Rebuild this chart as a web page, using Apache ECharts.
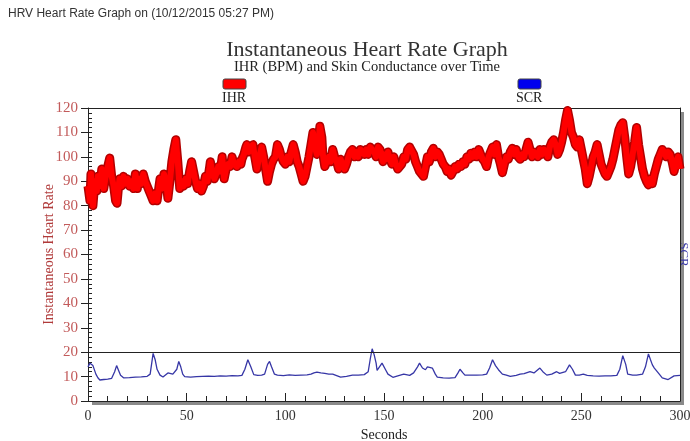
<!DOCTYPE html>
<html>
<head>
<meta charset="utf-8">
<script src="https://cdn.jsdelivr.net/npm/echarts@6/dist/echarts.min.js"></script>
<style>
    html, body { margin: 0; padding: 0; background: #fff; }
    #chart { width: 690px; height: 441px; }
</style>
</head>
<body>
<div id="chart"></div>
<script>
// IHR (beats per minute)
var ihrSeconds = [0, 1, 1.5, 2.5, 3.5, 4.5, 5, 6, 7, 8, 9, 10, 11, 12, 13, 14, 14.7, 15.5, 16, 17, 18, 19, 20, 21, 22, 23, 24, 25, 26, 27, 28, 29, 30, 31, 32, 33, 34, 35, 36, 36.5, 37.5, 38.5, 39.5, 40.5, 41.5, 42.5, 43.5, 44.5, 45.5, 46.5, 47.5, 48.5, 49.5, 50.5, 51.5, 52.5, 53.5, 54.5, 55.5, 56.5, 57.5, 58.5, 59.5, 60.5, 61.5, 62, 63, 64, 65, 66, 67, 68, 69, 70, 71, 72, 73, 74, 75.5, 76.5, 77.5, 78, 79, 80, 80.5, 81.5, 82.5, 83.6, 84.5, 85.6, 86.5, 88, 89, 90, 91, 92, 93, 94, 95, 96, 97, 98, 99, 100, 101, 102, 103, 104, 105, 106, 107, 108, 109, 110, 111, 112, 113, 114, 115, 116, 117, 117.5, 118.5, 119, 120, 121, 122, 123, 124, 125, 126, 127, 128, 129, 130, 131, 132, 133, 134, 135, 136, 137, 138, 139, 140, 141, 142, 143, 144, 145, 146, 147, 148, 149.5, 150, 151, 152, 153, 154, 155, 156, 157, 158, 159, 160, 161, 162, 163, 164, 165, 166, 167, 168, 169, 170, 171, 172, 173, 174, 175, 176, 177, 178, 179, 180, 181, 182, 183, 184, 185, 186, 187, 188, 189, 190, 191, 192, 193, 194, 195, 196, 197, 198, 199, 200, 201, 202, 203, 204, 205, 206, 207, 208, 209, 210, 211, 212, 213, 214, 215, 216, 217, 218, 219, 220, 221, 222, 223, 224, 225, 226, 227, 228, 229, 230, 231, 232, 233, 234, 235, 236, 237, 238, 239, 240, 241, 242, 243, 244, 245, 246, 247, 248, 249, 250, 251, 252, 253, 254, 255, 256, 257, 258, 259, 260, 261, 262, 263, 264, 265, 266, 267, 268, 269, 270, 271, 272, 273, 274, 275, 276, 277, 278, 279, 280, 281, 282, 283, 284, 285, 286, 287, 288, 289, 290, 291, 292, 293, 294, 295, 296, 297, 298, 299, 300];
var ihrBpm = [88, 82, 93, 80, 90, 86, 92, 88, 95, 87, 92, 96, 99.5, 92, 88, 82, 81, 88, 91, 88, 92, 89, 91, 88, 90, 87, 93, 87, 91, 89, 93, 90, 88, 86, 84, 82, 85, 82, 88, 91, 87, 93, 90, 83, 90, 98, 103, 107, 98, 87, 90, 88, 91, 89, 94, 98, 94, 90, 87, 89, 86, 88, 92, 90, 95, 98, 94, 91, 93, 96, 94, 100, 91, 95, 97, 96, 100, 97, 96, 98, 97, 99, 101, 104, 105, 102, 104, 105, 100, 95, 99, 104, 100, 95, 90, 94, 97, 99, 100, 105, 103, 100, 98, 97, 100, 98, 102, 105, 102, 98, 96, 93, 90, 92, 96, 100, 105, 110, 104, 101, 108, 112.5, 108, 101, 96, 98, 100, 98, 103, 100, 98, 95, 99, 97, 95, 97, 100, 102, 103, 100, 102, 100, 103, 102, 101, 103, 101, 104, 103, 102, 100, 104, 103, 98, 101, 99, 102, 99, 97, 100, 97, 95, 94.5, 97, 100, 99, 103, 104, 104.8, 101, 98, 96, 94, 93, 92, 96, 100, 98, 102, 103.5, 100, 102, 101, 99, 97, 96, 94, 95, 92.5, 94, 96, 95, 97, 96, 98, 97, 100, 99, 101.5, 100, 102, 100, 103, 101, 99, 98, 96, 100, 102, 104, 101, 105, 100, 97, 93.5, 97, 100, 99, 102, 103.5, 101, 103, 100, 99, 101, 100, 103, 106, 103, 100, 102, 101, 100, 103, 101, 103, 102, 100, 104, 106, 107, 105, 101, 103, 106, 110, 115, 119, 115, 110, 108, 105, 104, 107, 103, 99, 95, 89, 92, 96, 100, 102, 105, 101, 97, 95, 93, 92, 94, 96, 99, 103, 107, 111, 113, 114, 108, 100, 93, 96, 101, 106, 112, 105, 100, 95, 92, 90, 88.5, 91, 89, 93, 96, 99, 101, 103, 102, 100, 102, 101, 98, 94, 98, 100, 95];

// skin conductance
var scrSeconds = [0, 1, 2, 2.5, 4, 5, 6, 8, 10, 12, 13.5, 14.5, 15.5, 16.5, 18, 21, 24, 27, 30, 31.5, 33, 34, 35, 36.5, 38, 39, 40.5, 41.5, 43, 44, 45, 46, 47, 48, 49, 50, 52, 55, 58, 61, 64, 67, 70, 73, 76, 78, 79.5, 81, 82.5, 84, 86, 88, 89.5, 91, 92, 93, 94.5, 96, 99, 102, 105, 108, 111, 113, 114.5, 116, 118, 120, 122, 124, 126, 128, 129, 131, 134, 137, 140, 142, 143, 144, 145, 146, 146.5, 147.5, 149, 149.5, 151, 152, 154.5, 157, 160, 163, 165, 167, 168, 169.5, 171, 172, 173, 174.5, 176, 177, 180, 183, 186, 187.5, 188.5, 190, 191, 194, 197, 200, 202, 203.5, 205, 206.5, 208, 210, 212, 214, 217, 219, 221, 224, 226, 227.5, 229, 230.5, 232.5, 235, 237.5, 239, 240, 242, 244, 245.5, 247, 249, 251, 253, 256, 259, 262, 265, 268, 269.5, 271, 272.5, 273.5, 276, 278, 281, 282.5, 284, 285, 286, 287, 288, 289.5, 291, 294, 297, 300];
var scrValues = [14, 15.5, 16, 14.5, 11, 9.5, 8.6, 8.8, 9, 9.3, 12, 14.5, 12.5, 10.5, 9.5, 9.6, 9.8, 9.9, 10.1, 11, 19.5, 17, 13, 10.6, 9.8, 10, 11.5, 11.8, 11, 10.2, 13, 16.2, 14, 11, 10, 9.6, 9.8, 10, 10.1, 10.2, 10.1, 10.3, 10.2, 10.4, 10.3, 10.5, 13, 16.9, 14, 10.8, 10.5, 10.6, 11, 15, 16.2, 14, 11, 10.6, 10.4, 10.7, 10.5, 10.6, 10.7, 11, 11.5, 11.8, 11.5, 11.3, 11, 11, 10.4, 9.8, 9.5, 10.1, 10.6, 10.6, 10.8, 12, 17, 21.4, 19, 15.5, 12.5, 13, 15.5, 16, 12.5, 11, 9.7, 10.3, 11, 10.5, 11.5, 14, 15.5, 13.5, 12.8, 14, 14.8, 13.5, 11, 9.8, 9.5, 9.4, 9.6, 11.5, 13, 11.5, 10.6, 10.6, 10.6, 10.7, 11, 13.5, 16.9, 14.5, 12.8, 11, 10.6, 10.1, 10.5, 11, 11.2, 12, 11.5, 12.5, 13.5, 12, 10.6, 11, 12, 11.3, 10.6, 12, 14.8, 13, 10.6, 10.6, 11, 10.5, 10.3, 10.2, 10.3, 10.3, 10.5, 13, 18.6, 15, 11, 10.6, 10.6, 11, 14, 19.3, 17, 14.8, 13.5, 13.8, 11, 9.5, 8.8, 10.3, 10.5];

var secondTicks = [0, 50, 100, 150, 200, 250, 300];

function zip(xs, ys) {
    var out = [];
    for (var i = 0; i < xs.length; i++) {
        out.push([xs[i], ys[i]]);
    }
    return out;
}

var ihrData = zip(ihrSeconds, ihrBpm);
var scrData = zip(scrSeconds, scrValues);

var serif = '"Liberation Serif", "DejaVu Serif", serif';
var myChart = echarts.init(document.getElementById('chart'));

var option = {
    animation: false,
    backgroundColor: '#fff',
    grid: {
        left: 88,
        right: 10,
        top: 108,
        bottom: 40,
        outerBoundsMode: 'none',
        show: true,
        backgroundColor: '#fff',
        borderWidth: 0,
        shadowColor: '#8a8a8a',
        shadowOffsetX: 4,
        shadowOffsetY: 4,
        shadowBlur: 0
    },
    graphic: [
        {
            type: 'text', x: 8, y: 14,
            style: { text: 'HRV Heart Rate Graph on (10/12/2015 05:27 PM)', fill: '#333', font: '12px "Liberation Sans", Arial, sans-serif', textVerticalAlign: 'middle' }
        },
        {
            type: 'text', x: 367, y: 50,
            style: { text: 'Instantaneous Heart Rate Graph', fill: '#333', font: '22px ' + serif, textAlign: 'center', textVerticalAlign: 'middle' }
        },
        {
            type: 'text', x: 367, y: 67,
            style: { text: 'IHR (BPM) and Skin Conductance over Time', fill: '#222', font: '14.5px ' + serif, textAlign: 'center', textVerticalAlign: 'middle' }
        },
        // legend swatches
        {
            type: 'rect', shape: { x: 223, y: 79, width: 23, height: 10, r: 2 },
            style: { fill: '#ff0000', stroke: '#444', lineWidth: 1 }
        },
        {
            type: 'text', x: 222, y: 98,
            style: { text: 'IHR', fill: '#222', font: '14px ' + serif, textVerticalAlign: 'middle' }
        },
        {
            type: 'rect', shape: { x: 518, y: 79, width: 23, height: 10, r: 2 },
            style: { fill: '#0000ee', stroke: '#444', lineWidth: 1 }
        },
        {
            type: 'text', x: 516, y: 98,
            style: { text: 'SCR', fill: '#222', font: '14px ' + serif, textVerticalAlign: 'middle' }
        }
    ],
    xAxis: [
        {
            type: 'value',
            min: 0,
            max: 300,
            interval: 50,
            name: 'Seconds',
            nameLocation: 'middle',
            nameGap: 21,
            nameTextStyle: { fontFamily: serif, fontSize: 14, color: '#222' },
            axisLine: { lineStyle: { color: '#222', width: 1 } },
            axisTick: { inside: true, length: 8, lineStyle: { color: '#222' } },
            minorTick: { show: true, splitNumber: 5, length: 5, lineStyle: { color: '#222' } },
            axisLabel: {
                fontFamily: serif, fontSize: 14, color: '#333', margin: 8,
                formatter: function (v) { return secondTicks.indexOf(v) >= 0 ? String(v) : ''; }
            },
            splitLine: { show: false }
        },
        {
            // top frame line
            type: 'value',
            position: 'top',
            min: 0,
            max: 300,
            axisLine: { show: true, onZero: false, lineStyle: { color: '#222', width: 1 } },
            axisTick: { show: false },
            axisLabel: { show: false },
            splitLine: { show: false }
        }
    ],
    yAxis: [
        {
            type: 'value',
            min: 0,
            max: 120,
            interval: 10,
            name: 'Instantaneous Heart Rate',
            nameLocation: 'middle',
            nameGap: 32,
            nameMoveOverlap: false,
            nameTextStyle: { fontFamily: serif, fontSize: 14, color: '#b03a3a' },
            axisLine: { show: true, lineStyle: { color: '#222' } },
            axisTick: { show: true, length: 7, lineStyle: { color: '#222' } },
            axisLabel: { fontFamily: serif, fontSize: 15, color: '#c25a5a', margin: 10 },
            splitLine: { show: false }
        },
        {
            // minor comb inside the left axis
            type: 'value',
            position: 'left',
            min: 0,
            max: 120,
            interval: 2,
            axisLine: { show: false },
            axisTick: { show: true, inside: true, length: 4, lineStyle: { color: '#222' } },
            axisLabel: { show: false },
            splitLine: { show: false }
        },
        {
            type: 'value',
            position: 'right',
            min: 0,
            max: 120,
            name: 'SCR',
            nameLocation: 'middle',
            nameRotate: -90,
            nameGap: -3,
            nameMoveOverlap: false,
            nameTextStyle: { fontFamily: serif, fontSize: 13, color: '#3a3aa8' },
            axisLine: { show: true, onZero: false, lineStyle: { color: '#222', width: 1 } },
            axisTick: { show: false },
            axisLabel: { show: false },
            splitLine: { show: false }
        }
    ],
    series: [
        {
            name: 'SCR',
            type: 'line',
            data: scrData,
            showSymbol: false,
            lineStyle: { color: '#3636a6', width: 1.3 },
            markLine: {
                silent: true,
                symbol: 'none',
                label: { show: false },
                lineStyle: { color: '#222', width: 1, type: 'solid' },
                data: [{ yAxis: 20 }]
            }
        },
        {
            name: 'IHR edge',
            type: 'line',
            data: ihrData,
            showSymbol: false,
            lineStyle: { color: '#b30000', width: 9, join: 'round' }
        },
        {
            name: 'IHR',
            type: 'line',
            data: ihrData,
            showSymbol: false,
            lineStyle: { color: '#ff0000', width: 6, join: 'round' }
        }
    ]
};

myChart.setOption(option);
</script>
</body>
</html>
